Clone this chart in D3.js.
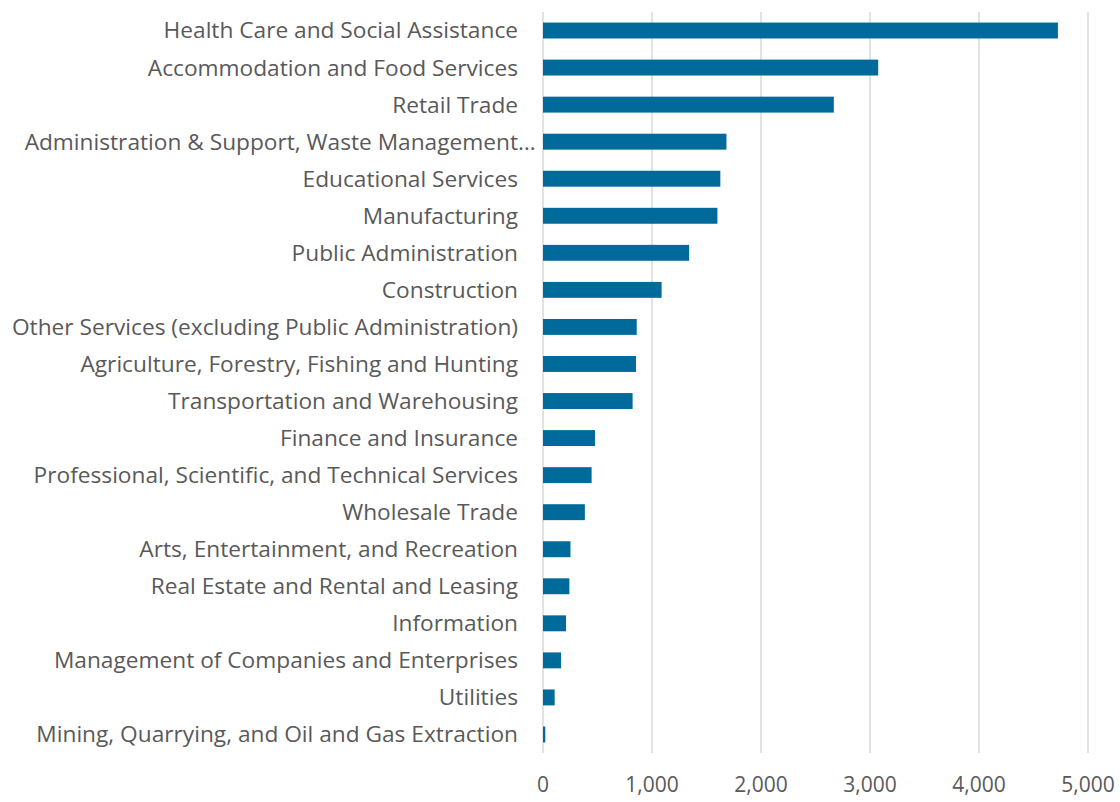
<!DOCTYPE html>
<html>
<head>
<meta charset="utf-8">
<script src="https://cdn.jsdelivr.net/npm/d3@7"></script>
<style>
  body { margin: 0; background: #fff; }
  svg text { font-family: "Open Sans", "Noto Sans", sans-serif; fill: #595959; }
</style>
</head>
<body>
<script>
// industries, top to bottom
var industries = [
  "Health Care and Social Assistance",
  "Accommodation and Food Services",
  "Retail Trade",
  "Administration & Support, Waste Management\u2026",
  "Educational Services",
  "Manufacturing",
  "Public Administration",
  "Construction",
  "Other Services (excluding Public Administration)",
  "Agriculture, Forestry, Fishing and Hunting",
  "Transportation and Warehousing",
  "Finance and Insurance",
  "Professional, Scientific, and Technical Services",
  "Wholesale Trade",
  "Arts, Entertainment, and Recreation",
  "Real Estate and Rental and Leasing",
  "Information",
  "Management of Companies and Enterprises",
  "Utilities",
  "Mining, Quarrying, and Oil and Gas Extraction"
];

var employees = [4724, 3075, 2668, 1683, 1627, 1600, 1341, 1088, 860, 853,
                 822, 477, 446, 384, 252, 242, 211, 166, 107, 21];

var xTicks = [0, 1000, 2000, 3000, 4000, 5000];

(function drawChart() {

var W = 1120, H = 802;
var plotLeft = 543, plotRight = 1088, plotTop = 12, plotBottom = 753;
var labelRight = 518;

var svg = d3.select("body").append("svg")
  .attr("width", W)
  .attr("height", H);

var x = d3.scaleLinear().domain([0, 5000]).range([plotLeft, plotRight]);
var y = d3.scaleBand().domain(industries).range([plotTop, plotBottom])
  .paddingInner(0.57).paddingOuter(0.285);

// gridlines
svg.selectAll("line.grid")
  .data(xTicks)
  .enter()
  .append("line")
  .attr("class", "grid")
  .attr("x1", function(d) { return x(d); })
  .attr("x2", function(d) { return x(d); })
  .attr("y1", plotTop)
  .attr("y2", plotBottom)
  .attr("stroke", "#d9d9d9")
  .attr("stroke-width", 1.5);

// bars
svg.selectAll("rect.bar")
  .data(employees)
  .enter()
  .append("rect")
  .attr("class", "bar")
  .attr("x", x(0))
  .attr("y", function(d, i) { return y(industries[i]); })
  .attr("width", function(d) { return x(d) - x(0); })
  .attr("height", y.bandwidth())
  .attr("fill", "#006b9b");

// category labels
var cats = svg.selectAll("text.cat")
  .data(industries)
  .enter()
  .append("text")
  .attr("class", "cat")
  .attr("x", labelRight)
  .attr("y", function(d) { return y(d) + y.bandwidth() / 2; })
  .attr("dy", "0.35em")
  .attr("text-anchor", "end")
  .style("font-size", "22.7px")
  .text(function(d) { return d; });

// the truncated label lets its ellipsis hang past the label edge
cats.filter(function(d) { return d.slice(-1) === "\u2026"; })
  .attr("x", function(d) {
    var n = this.getNumberOfChars();
    return labelRight + this.getSubStringLength(n - 1, 1);
  });

// x tick labels
svg.selectAll("text.tick")
  .data(xTicks)
  .enter()
  .append("text")
  .attr("class", "tick")
  .attr("x", function(d) { return x(d); })
  .attr("y", 785)
  .attr("dy", "0.35em")
  .attr("text-anchor", "middle")
  .style("font-size", "21px")
  .text(function(d) { return d3.format(",")(d); });

})();
</script>
</body>
</html>
